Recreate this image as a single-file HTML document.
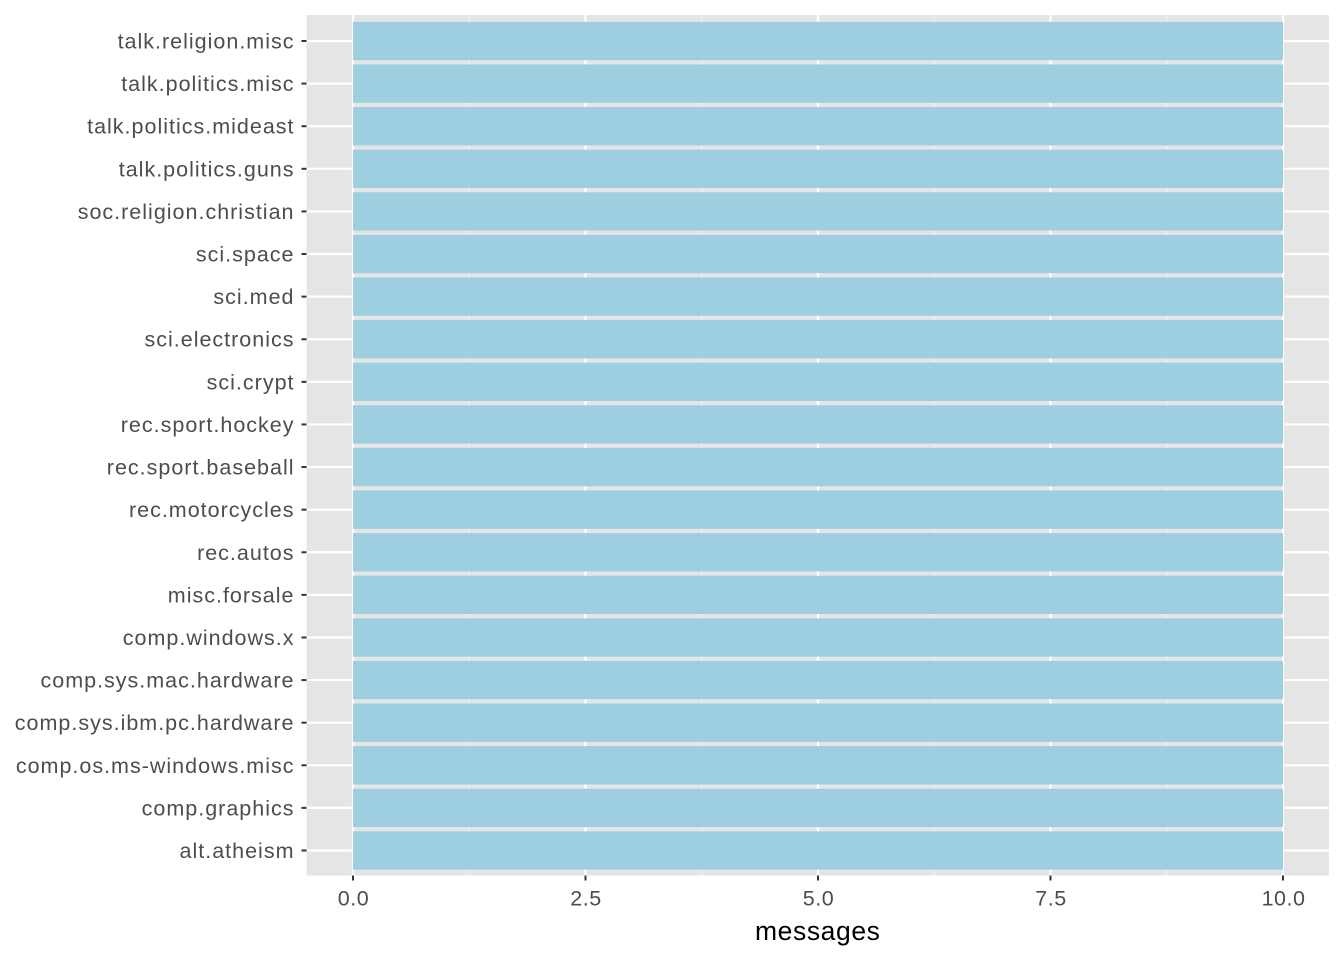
<!DOCTYPE html>
<html><head><meta charset="utf-8"><style>
html,body{margin:0;padding:0;background:#fff;}
svg{display:block;font-family:"Liberation Sans",Arial,sans-serif;}
</style></head><body>
<svg id="s" width="1344" height="960" xmlns="http://www.w3.org/2000/svg"></svg>
<script>
const labels=["talk.religion.misc","talk.politics.misc","talk.politics.mideast","talk.politics.guns","soc.religion.christian","sci.space","sci.med","sci.electronics","sci.crypt","rec.sport.hockey","rec.sport.baseball","rec.motorcycles","rec.autos","misc.forsale","comp.windows.x","comp.sys.mac.hardware","comp.sys.ibm.pc.hardware","comp.os.ms-windows.misc","comp.graphics","alt.atheism"];
const L=306.5,R=1329,T=15,B=875.5;
const x0=353,x10=1283,sx=(x10-x0)/10;
const step=(850.5-41)/19;
let h=`<rect x="${L}" y="${T}" width="${R-L}" height="${B-T}" fill="#e5e5e5"/>`;
for(let v=1.25;v<11;v+=2.5){const x=x0+v*sx;h+=`<line x1="${x}" x2="${x}" y1="${T}" y2="${B}" stroke="#f2f2f2" stroke-width="1.1"/>`;}
for(let v=0;v<=10;v+=2.5){const x=x0+v*sx;h+=`<line x1="${x}" x2="${x}" y1="${T}" y2="${B}" stroke="#fff" stroke-width="2.2"/>`;}
labels.forEach((l,i)=>{const y=41+i*step;h+=`<line x1="${L}" x2="${R}" y1="${y}" y2="${y}" stroke="#fff" stroke-width="2.2"/>`;});
labels.forEach((l,i)=>{const y=41+i*step;const bh=step*0.9;
h+=`<rect x="${x0}" y="${y-bh/2}" width="${x10-x0}" height="${bh}" fill="#9ecfe0"/>`;
h+=`<line x1="${L-5}" x2="${L}" y1="${y}" y2="${y}" stroke="#333" stroke-width="2"/>`;
h+=`<text x="${L-12}" y="${y+7.5}" text-anchor="end" font-size="21.5" letter-spacing="1" fill="#4d4d4d">${l}</text>`;});
["0.0","2.5","5.0","7.5","10.0"].forEach((t,i)=>{const x=x0+i*2.5*sx;
h+=`<line x1="${x}" x2="${x}" y1="${B}" y2="${B+5}" stroke="#333" stroke-width="2"/>`;
h+=`<text x="${x+0.5}" y="${B+30}" text-anchor="middle" font-size="21.5" letter-spacing="0.5" fill="#4d4d4d">${t}</text>`;});
h+=`<text x="${(L+R)/2}" y="940" text-anchor="middle" font-size="26.5" letter-spacing="0.6" fill="#000">messages</text>`;
document.getElementById("s").innerHTML=h;
</script>
</body></html>
